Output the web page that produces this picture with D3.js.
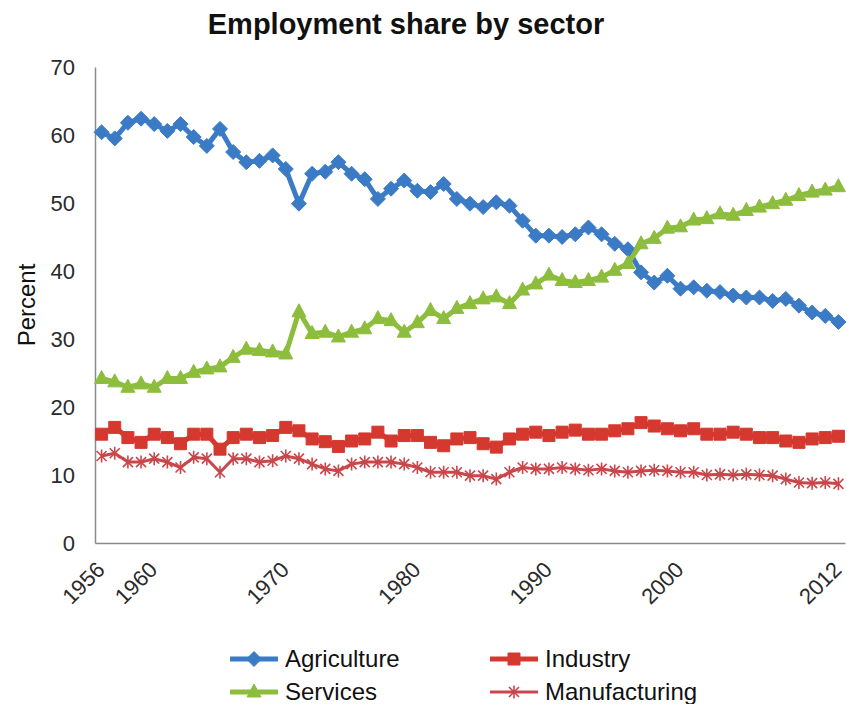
<!DOCTYPE html>
<html><head><meta charset="utf-8">
<script src="https://cdn.jsdelivr.net/npm/d3@7"></script>
<style>
body{margin:0;background:#fff}
svg{display:block}
text{font-family:"Liberation Sans",Arial,Helvetica,sans-serif}
</style>
</head><body>
<svg id="c" width="847" height="704"></svg>
<script>
const years = [1956,1957,1958,1959,1960,1961,1962,1963,1964,1965,1966,1967,1968,1969,1970,1971,1972,1973,1974,1975,1976,1977,1978,1979,1980,1981,1982,1983,1984,1985,1986,1987,1988,1989,1990,1991,1992,1993,1994,1995,1996,1997,1998,1999,2000,2001,2002,2003,2004,2005,2006,2007,2008,2009,2010,2011,2012];
const agriculture = [60.4,59.5,61.8,62.4,61.6,60.6,61.6,59.7,58.4,60.9,57.5,56.0,56.2,57.0,55.0,49.9,54.3,54.6,56.0,54.3,53.5,50.6,52.1,53.3,51.8,51.6,52.8,50.6,49.9,49.4,50.1,49.6,47.4,45.2,45.2,45.0,45.4,46.4,45.4,44.0,43.2,39.8,38.3,39.3,37.4,37.6,37.1,36.9,36.4,36.1,36.1,35.6,35.9,34.9,33.9,33.4,32.5];
const industry = [16.0,17.0,15.5,14.8,16.0,15.5,14.6,16.0,16.0,13.8,15.5,16.0,15.5,15.8,17.0,16.5,15.3,14.9,14.2,15.0,15.3,16.3,15.0,15.8,15.8,14.8,14.3,15.3,15.5,14.6,14.1,15.3,16.0,16.3,15.8,16.3,16.6,16.0,16.0,16.5,16.8,17.7,17.2,16.8,16.5,16.8,16.0,16.0,16.3,16.0,15.5,15.5,15.0,14.8,15.3,15.5,15.7];
const services = [24.2,23.7,22.9,23.4,22.9,24.2,24.2,25.1,25.6,25.9,27.3,28.5,28.3,28.1,27.8,34.0,30.8,31.0,30.3,31.0,31.5,33.0,32.7,31.0,32.4,34.2,33.0,34.5,35.2,35.9,36.2,35.2,37.2,38.1,39.4,38.6,38.3,38.6,39.1,40.1,41.1,44.0,44.8,46.3,46.5,47.5,47.7,48.4,48.2,48.9,49.4,49.9,50.4,51.1,51.6,51.9,52.4];
const manufacturing = [12.8,13.2,11.9,11.9,12.4,11.9,11.1,12.6,12.4,10.4,12.4,12.4,11.9,12.1,12.8,12.4,11.6,10.9,10.6,11.6,11.9,11.9,11.9,11.6,11.1,10.4,10.4,10.4,9.9,9.9,9.4,10.4,11.1,10.9,10.9,11.1,10.9,10.7,10.9,10.6,10.4,10.6,10.7,10.6,10.4,10.4,10.0,10.1,10.0,10.1,10.0,9.9,9.4,8.9,8.8,8.9,8.7];
const seriesNames = ["Agriculture","Industry","Services","Manufacturing"];
const yTicks = [0,10,20,30,40,50,60,70];
const xTickYears = [1956,1960,1970,1980,1990,2000,2012];
const titleText = "Employment share by sector";
const yTitle = "Percent";

const seriesValues = [agriculture, industry, services, manufacturing];
const colors = ["#3b7bc6","#d5382f","#8dbd3d","#c9464b"];
const widths = [5,5,5,3];
const markers = [
  "M0,-7.5L7.5,0L0,7.5L-7.5,0Z",
  "M-6,-6H6V6H-6Z",
  "M0,-8L7,5L-7,5Z",
  "M-5,-5L5,5M-5,5L5,-5M0,-6.5V6.5"
];
const markerFill = [true,true,true,false];

const svg = d3.select("#c");
const x = d3.scalePoint().domain(years).range([95,845]).padding(0.5);
const y = d3.scaleLinear().domain([0,70]).range([543,67]);

// title
svg.append("text").attr("x",406).attr("y",34).attr("text-anchor","middle")
  .attr("font-size",29).attr("font-weight","bold").attr("fill","#111").text(titleText);

// y axis
const gy = svg.append("g").attr("transform","translate(95,0)")
  .call(d3.axisLeft(y).tickValues(yTicks).tickSize(0).tickSizeOuter(0).tickPadding(20).tickFormat(d3.format("d")));
gy.select(".domain").attr("stroke","#8a8a8a").attr("stroke-width",1.5);
gy.selectAll("text").attr("font-size",22).attr("fill","#2a2a2a").style("font-family",'"Liberation Sans",Arial,sans-serif');

// x axis
const gx = svg.append("g").attr("transform","translate(0,543)")
  .call(d3.axisBottom(x).tickValues(xTickYears).tickSize(0).tickSizeOuter(0));
gx.select(".domain").attr("stroke","#8a8a8a").attr("stroke-width",1.5);
gx.selectAll("text").attr("font-size",22).attr("fill","#2a2a2a").style("font-family",'"Liberation Sans",Arial,sans-serif')
  .attr("y",0).attr("dy",0).attr("text-anchor","end").attr("transform","translate(4,28) rotate(-45)");

// y title
svg.append("text").attr("transform","translate(35,305) rotate(-90)").attr("text-anchor","middle")
  .attr("font-size",24).attr("fill","#111").text(yTitle);

// series
const line = d3.line().x((d,i)=>x(years[i])).y(d=>y(d));
seriesValues.forEach((vals,k)=>{
  const g = svg.append("g");
  g.append("path").datum(vals).attr("d",line).attr("fill","none")
    .attr("stroke",colors[k]).attr("stroke-width",widths[k]).attr("stroke-linejoin","round");
  g.selectAll("path.m").data(vals).join("path").attr("class","m")
    .attr("transform",(d,i)=>`translate(${x(years[i])},${y(d)})`)
    .attr("d",markers[k])
    .attr("fill",markerFill[k]?colors[k]:"none")
    .attr("stroke",colors[k]).attr("stroke-width",markerFill[k]?1:1.6);
});

// legend
const legPos = [[230,659],[490,659],[230,692],[490,692]];
seriesNames.forEach((name,k)=>{
  const [lx,ly] = legPos[k];
  const g = svg.append("g");
  g.append("line").attr("x1",lx).attr("x2",lx+48).attr("y1",ly).attr("y2",ly)
    .attr("stroke",colors[k]).attr("stroke-width",k===3?3:5);
  g.append("path").attr("transform",`translate(${lx+24},${ly})`).attr("d",markers[k])
    .attr("fill",markerFill[k]?colors[k]:"none").attr("stroke",colors[k]).attr("stroke-width",markerFill[k]?1:1.6);
  g.append("text").attr("x",lx+55).attr("y",ly+8).attr("font-size",24).attr("fill","#111").text(name);
});
</script>
</body></html>
